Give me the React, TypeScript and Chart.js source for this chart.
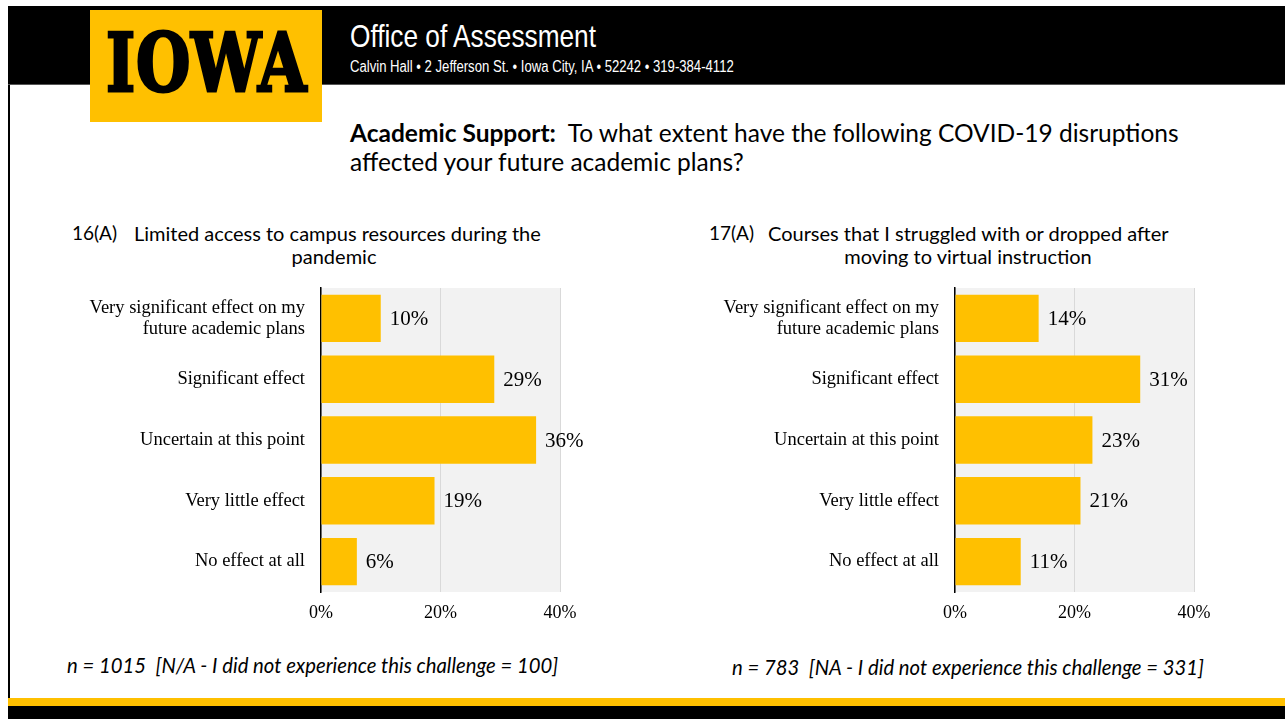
import React, { useEffect, useRef } from "react";
import { Chart, registerables } from "chart.js";

Chart.register(...registerables);

const CATEGORIES: (string | string[])[] = [
  ["Very significant effect on my", "future academic plans"],
  "Significant effect",
  "Uncertain at this point",
  "Very little effect",
  "No effect at all",
];
const LEFT_VALUES = [10, 29, 36, 19, 6];
const RIGHT_VALUES = [14, 31, 23, 21, 11];
const X_TICKS = [0, 20, 40];

const LEFT_NUM = "16(A)";
const LEFT_TITLE = ["Limited access to campus resources during the", "pandemic"];
const RIGHT_NUM = "17(A)";
const RIGHT_TITLE = ["Courses that I struggled with or dropped after", "moving to virtual instruction"];
const LEFT_NOTE = "n = 1015  [N/A - I did not experience this challenge = 100]";
const RIGHT_NOTE = "n = 783  [NA - I did not experience this challenge = 331]";

const GOLD = "#FFC000";
const SERIF = "'Liberation Serif', 'Times New Roman', serif";
const SANS = "Lato, 'Open Sans', sans-serif";

const bgPlugin = {
  id: "plotBg",
  beforeDraw(chart: any) {
    const { ctx, chartArea } = chart;
    ctx.save();
    ctx.fillStyle = "#F2F2F2";
    ctx.fillRect(chartArea.left, chartArea.top, chartArea.right - chartArea.left, chartArea.bottom - chartArea.top);
    ctx.restore();
  },
};

const labelPlugin = {
  id: "valueLabels",
  afterDatasetsDraw(chart: any) {
    const { ctx } = chart;
    const meta = chart.getDatasetMeta(0);
    const data = chart.data.datasets[0].data;
    ctx.save();
    ctx.font = `21px ${SERIF}`;
    ctx.fillStyle = "#000";
    ctx.textAlign = "left";
    ctx.textBaseline = "middle";
    meta.data.forEach((bar: any, i: number) => {
      ctx.fillText(`${data[i]}%`, bar.x + 9, bar.y + 1);
    });
    ctx.restore();
  },
};

function BarChart({ values, yWidth, padRight }: { values: number[]; yWidth: number; padRight: number }) {
  const ref = useRef<HTMLCanvasElement>(null);
  useEffect(() => {
    if (!ref.current) return;
    const chart = new Chart(ref.current, {
      type: "bar",
      data: {
        labels: CATEGORIES as any,
        datasets: [
          {
            data: values,
            backgroundColor: GOLD,
            borderWidth: 0,
            barPercentage: 0.78,
            categoryPercentage: 1,
          },
        ],
      },
      options: {
        indexAxis: "y",
        responsive: false,
        animation: false,
        layout: { padding: { top: 8, right: padRight, left: 0, bottom: 0 } },
        plugins: { legend: { display: false }, tooltip: { enabled: false } },
        scales: {
          x: {
            min: X_TICKS[0],
            max: X_TICKS[X_TICKS.length - 1],
            afterBuildTicks: (s: any) => {
              s.ticks = X_TICKS.map((v) => ({ value: v }));
            },
            ticks: {
              callback: (v: any) => `${v}%`,
              font: { family: SERIF, size: 18 },
              color: "#000",
              padding: 10,
            },
            grid: { color: "#D9D9D9", lineWidth: 1, drawTicks: false },
            border: { display: false },
            afterFit: (s: any) => {
              s.height = 38;
              s.paddingLeft = 0;
              s.paddingRight = 0;
            },
          },
          y: {
            ticks: {
              font: { family: SERIF, size: 18.5, lineHeight: 1.15 },
              color: "#000",
              padding: 16,
            },
            grid: { display: false, drawTicks: false },
            border: { display: true, color: "#000", width: 1.5 },
            afterFit: (s: any) => {
              s.width = yWidth;
              s.paddingTop = 0;
              s.paddingBottom = 0;
            },
          },
        },
      } as any,
      plugins: [bgPlugin, labelPlugin],
    });
    return () => chart.destroy();
  }, []);
  return <canvas ref={ref} width={580} height={350} style={{ width: 580, height: 350, display: "block" }} />;
}

export default function App() {
  const abs = (x: number, y: number, extra: React.CSSProperties = {}): React.CSSProperties => ({
    position: "absolute",
    left: x,
    top: y,
    margin: 0,
    whiteSpace: "pre",
    ...extra,
  });
  return (
    <div style={{ position: "fixed", left: 0, top: 0, width: 1285, height: 719, background: "#fff", overflow: "hidden" }}>
      {/* header */}
      <div style={abs(8, 6, { width: 1277, height: 79, background: "#000", borderBottom: "1px solid #555", boxSizing: "border-box" })} />
      {/* left border */}
      <div style={abs(8, 85, { width: 2, height: 614, background: "#000" })} />
      {/* bottom bands */}
      <div style={abs(8, 698, { width: 1277, height: 8, background: GOLD })} />
      <div style={abs(8, 706, { width: 1277, height: 13, background: "#000" })} />
      {/* logo */}
      <div style={abs(90, 10, { width: 232, height: 112, background: GOLD })}>
        <div
          style={{
            position: "absolute",
            left: 16,
            top: 13,
            fontFamily: "'DejaVu Serif', serif",
            fontWeight: 900,
            fontSize: 80,
            lineHeight: 1,
            color: "#000",
            transform: "scaleX(0.78)",
            transformOrigin: "left top",
            letterSpacing: 1,
            WebkitTextStroke: "3px #000",
          }}
        >
          IOWA
        </div>
      </div>
      <div
        style={abs(350, 20, {
          fontFamily: "'Liberation Sans', Arial, sans-serif",
          fontSize: 32,
          lineHeight: 1,
          color: "#fff",
          transform: "scaleX(0.82)",
          transformOrigin: "left top",
        })}
      >
        Office of Assessment
      </div>
      <div
        style={abs(350, 58.5, {
          fontFamily: "'Liberation Sans', Arial, sans-serif",
          fontSize: 16,
          lineHeight: 1,
          color: "#fff",
          transform: "scaleX(0.82)",
          transformOrigin: "left top",
        })}
      >
        Calvin Hall • 2 Jefferson St. • Iowa City, IA • 52242 • 319-384-4112
      </div>
      {/* title */}
      <div style={abs(350, 118, { fontFamily: SANS, fontSize: 24.5, lineHeight: "29px", color: "#000" })}>
        <div>
          <b>Academic Support:</b>
          {"  To what extent have the following COVID-19 disruptions"}
        </div>
        <div>affected your future academic plans?</div>
      </div>
      {/* chart titles */}
      <div style={abs(72, 221, { fontFamily: SANS, fontSize: 19, lineHeight: "23px" })}>{LEFT_NUM}</div>
      <div style={abs(134, 222, { width: 400, textAlign: "center", fontFamily: SANS, fontSize: 20, lineHeight: "23px" })}>
        {LEFT_TITLE.map((t) => (
          <div key={t}>{t}</div>
        ))}
      </div>
      <div style={abs(709, 221, { fontFamily: SANS, fontSize: 19, lineHeight: "23px" })}>{RIGHT_NUM}</div>
      <div style={abs(768, 222, { width: 400, textAlign: "center", fontFamily: SANS, fontSize: 20, lineHeight: "23px" })}>
        {RIGHT_TITLE.map((t) => (
          <div key={t}>{t}</div>
        ))}
      </div>
      {/* charts */}
      <div style={abs(40, 280)}>
        <BarChart values={LEFT_VALUES} yWidth={281} padRight={60} />
      </div>
      <div style={abs(680, 280)}>
        <BarChart values={RIGHT_VALUES} yWidth={275} padRight={66} />
      </div>
      {/* notes */}
      <div style={abs(67, 653, { fontFamily: SANS, fontStyle: "italic", fontSize: 20.3, lineHeight: "24px" })}>{LEFT_NOTE}</div>
      <div style={abs(732, 655, { fontFamily: SANS, fontStyle: "italic", fontSize: 20.3, lineHeight: "24px" })}>{RIGHT_NOTE}</div>
    </div>
  );
}
